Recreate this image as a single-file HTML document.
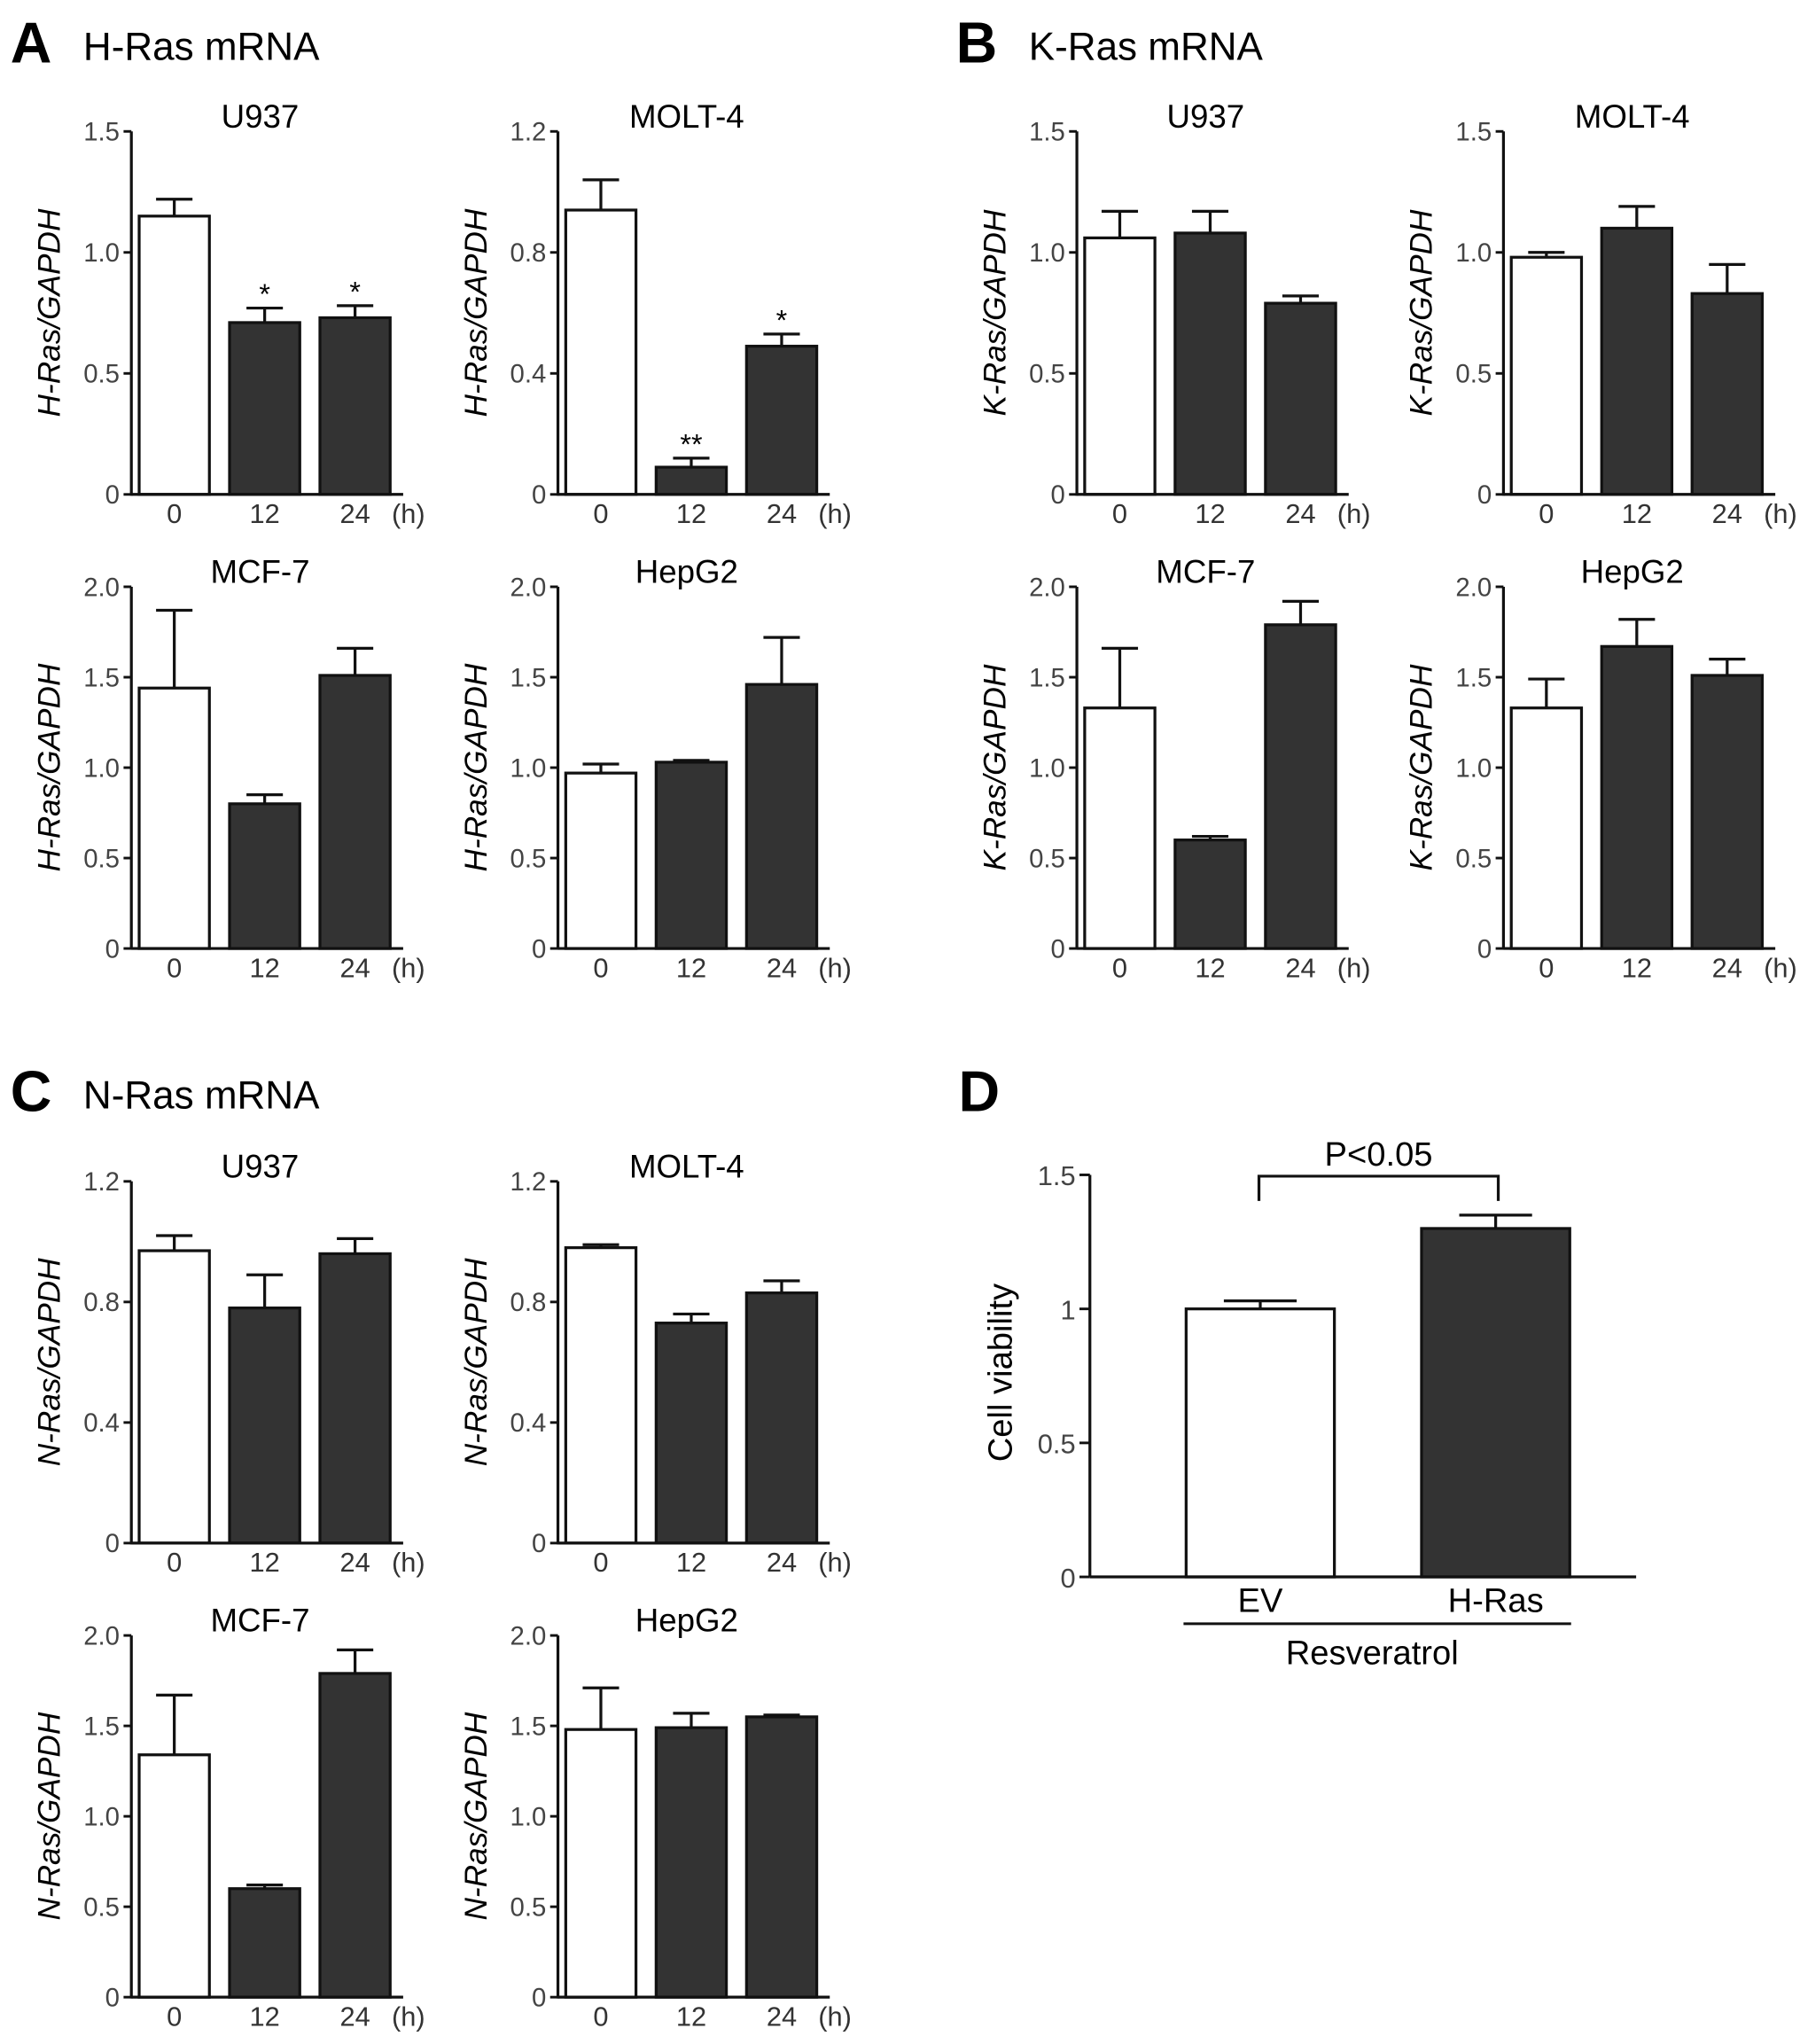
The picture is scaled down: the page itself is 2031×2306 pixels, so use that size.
<!DOCTYPE html>
<html><head><meta charset="utf-8"><style>
html,body{margin:0;padding:0;background:#fff}
svg{display:block}
text{font-family:"Liberation Sans",Arial,sans-serif}
</style></head><body>
<svg id="fig" xmlns="http://www.w3.org/2000/svg" width="2031" height="2306" viewBox="0 0 1384 1571" preserveAspectRatio="none">
<g>
<text x="8" y="48" font-size="44" font-weight="bold">A</text>
<text x="64" y="46" font-size="30">H-Ras mRNA</text>
<text x="735" y="48" font-size="44" font-weight="bold">B</text>
<text x="791" y="46" font-size="30">K-Ras mRNA</text>
<text x="8" y="854" font-size="44" font-weight="bold">C</text>
<text x="64" y="852" font-size="30">N-Ras mRNA</text>
<text x="737" y="854" font-size="44" font-weight="bold">D</text>
</g>
</svg>
<script>
// Chart data
const categories = ["0","12","24"];
const cellLines = ["U937","MOLT-4","MCF-7","HepG2"];
const aMeans = [[1.15,0.71,0.73],[0.94,0.09,0.49],[1.44,0.80,1.51],[0.97,1.03,1.46]];
const aErrs  = [[0.07,0.06,0.05],[0.10,0.03,0.04],[0.43,0.05,0.15],[0.05,0.01,0.26]];
const bMeans = [[1.06,1.08,0.79],[0.98,1.10,0.83],[1.33,0.60,1.79],[1.33,1.67,1.51]];
const bErrs  = [[0.11,0.09,0.03],[0.02,0.09,0.12],[0.33,0.02,0.13],[0.16,0.15,0.09]];
const cMeans = [[0.97,0.78,0.96],[0.98,0.73,0.83],[1.34,0.60,1.79],[1.48,1.49,1.55]];
const cErrs  = [[0.05,0.11,0.05],[0.01,0.03,0.04],[0.33,0.02,0.13],[0.23,0.08,0.01]];
const aTicks = [["0","0.5","1.0","1.5"],["0","0.4","0.8","1.2"],["0","0.5","1.0","1.5","2.0"],["0","0.5","1.0","1.5","2.0"]];
const bTicks = [["0","0.5","1.0","1.5"],["0","0.5","1.0","1.5"],["0","0.5","1.0","1.5","2.0"],["0","0.5","1.0","1.5","2.0"]];
const cTicks = [["0","0.4","0.8","1.2"],["0","0.4","0.8","1.2"],["0","0.5","1.0","1.5","2.0"],["0","0.5","1.0","1.5","2.0"]];
const aStars = [["","*","*"],["","**","*"],["","",""],["","",""]];
const dCategories = ["EV","H-Ras"];
const dMeans = [1.00,1.30];
const dErrs = [0.03,0.05];
const dTicks = ["0","0.5","1","1.5"];

const NS="http://www.w3.org/2000/svg";
const svg=document.getElementById('fig');
function mk(tag,attrs,parent){const e=document.createElementNS(NS,tag);for(const k in attrs)e.setAttribute(k,attrs[k]);(parent||svg).appendChild(e);return e;}
function txt(s,attrs,parent){const e=mk('text',attrs,parent);e.textContent=s;return e;}

function chart(ox,top,base,ticks,means,errs,stars,title,ylab,id){
  const g=mk('g',{});
  
  
  const max=parseFloat(ticks[ticks.length-1]);
  const y=v=>base-(v/max)*(base-top);
  const x=i=>ox+6+i*69.5;
  const bw=54;
  for(let i=0;i<means.length;i++){
    const yt=y(means[i]+errs[i]), cx=x(i)+bw/2;
    const el=mk('line',{x1:cx,x2:cx,y1:y(means[i]),y2:yt,stroke:'#111','stroke-width':2.2},g);
    
    
    mk('line',{x1:cx-14,x2:cx+14,y1:yt,y2:yt,stroke:'#111','stroke-width':2.2},g);
    const r=mk('rect',{x:x(i),y:y(means[i]),width:bw,height:base-y(means[i]),fill:i==0?'#fff':'#333',stroke:'#111','stroke-width':2.2},g);
    
    
    txt(categories[i],{x:cx,y:base+22,'font-size':21,'text-anchor':'middle',fill:'#333'},g);
    if(stars&&stars[i]) txt(stars[i],{x:cx,y:yt-3,'font-size':22,'text-anchor':'middle'},g);
  }
  mk('line',{x1:ox,x2:ox,y1:top,y2:base+1,stroke:'#111','stroke-width':2.2},g);
  mk('line',{x1:ox,x2:ox+209,y1:base,y2:base,stroke:'#111','stroke-width':2.2},g);
  ticks.forEach(t=>{const v=parseFloat(t),yy=y(v);
    mk('line',{x1:ox-6,x2:ox,y1:yy,y2:yy,stroke:'#111','stroke-width':2},g);
    txt(t,{x:ox-9,y:yy+7,'font-size':20,'text-anchor':'end',fill:'#444'},g);});
  txt('(h)',{x:ox+213,y:base+22,'font-size':21,'text-anchor':'middle',fill:'#333'},g);
  const tt=txt(title,{x:ox+99,y:top-3,'font-size':25,'text-anchor':'middle'},g);
  
  
  const yl=txt(ylab,{x:0,y:0,'font-size':24,'font-style':'italic','text-anchor':'middle',transform:`translate(${ox-55},${(top+base)/2}) rotate(-90)`},g);
  
  
}
const cols=[[101,429],[828,1156],[101,429]];
const rows=[[[101,380],[451,729]],[[101,380],[451,729]],[[908,1186],[1257,1535]]];
const sets=[[aMeans,aErrs,aTicks,'H-Ras/GAPDH','a'],[bMeans,bErrs,bTicks,'K-Ras/GAPDH','b'],[cMeans,cErrs,cTicks,'N-Ras/GAPDH','c']];
sets.forEach((s,p)=>{
  for(let k=0;k<4;k++){
    const r=rows[p][Math.floor(k/2)], ox=cols[p][k%2];
    chart(ox,r[0],r[1],s[2][k],s[0][k],s[1][k],p==0?aStars[k]:null,cellLines[k],s[3],'chart-'+s[4]+'-'+cellLines[k].toLowerCase());
  }
});
// Panel D
(function(){
  const g=mk('g',{});
  
  
  const ox=838, top=903, base=1212, max=1.5;
  const y=v=>base-(v/max)*(base-top);
  const xs=i=>912+i*181, bw=114;
  for(let i=0;i<2;i++){
    const cx=xs(i)+bw/2, yt=y(dMeans[i]+dErrs[i]);
    mk('line',{x1:cx,x2:cx,y1:y(dMeans[i]),y2:yt,stroke:'#111','stroke-width':2.2},g);
    mk('line',{x1:cx-28,x2:cx+28,y1:yt,y2:yt,stroke:'#111','stroke-width':2.2},g);
    const r=mk('rect',{x:xs(i),y:y(dMeans[i]),width:bw,height:base-y(dMeans[i]),fill:i==0?'#fff':'#333',stroke:'#111','stroke-width':2.2},g);
    
    
    txt(dCategories[i],{x:cx,y:base+27,'font-size':26,'text-anchor':'middle'},g);
  }
  mk('line',{x1:ox,x2:ox,y1:top,y2:base,stroke:'#111','stroke-width':2.2},g);
  mk('line',{x1:ox,x2:1258,y1:base,y2:base,stroke:'#111','stroke-width':2.2},g);
  dTicks.forEach(t=>{const yy=y(parseFloat(t));
    mk('line',{x1:ox-8,x2:ox,y1:yy,y2:yy,stroke:'#111','stroke-width':2},g);
    txt(t,{x:ox-11,y:yy+8,'font-size':21,'text-anchor':'end',fill:'#444'},g);});
  mk('line',{x1:910,x2:1208,y1:1248,y2:1248,stroke:'#111','stroke-width':2},g);
  txt('Resveratrol',{x:1055,y:1279,'font-size':26,'text-anchor':'middle'},g);
  mk('path',{d:'M968 923 V904 H1152 V923',fill:'none',stroke:'#111','stroke-width':2.2},g);
  txt('P<0.05',{x:1060,y:896,'font-size':26,'text-anchor':'middle'},g);
  const yl=txt('Cell viability',{x:0,y:0,'font-size':26,'text-anchor':'middle',transform:'translate(778,1055) rotate(-90)'},g);
  
  
})();
</script>
</body></html>
